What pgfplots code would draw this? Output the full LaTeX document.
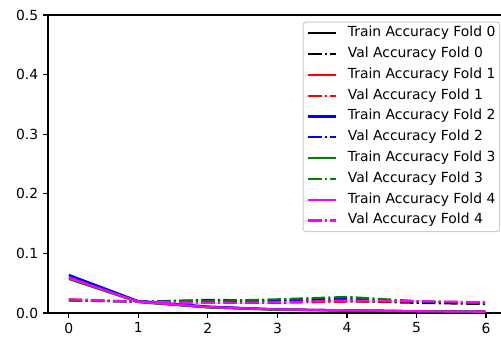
\documentclass[border=0pt]{standalone}
\usepackage{pgfplots}
\pgfplotsset{compat=1.18}
\usepackage{fontspec}
\setmainfont{DejaVu Sans}
\definecolor{mplgreen}{RGB}{0,128,0}
\definecolor{mplred}{RGB}{255,0,0}
\definecolor{mplblue}{RGB}{0,0,255}
\definecolor{mplmag}{RGB}{255,0,255}
\begin{document}
\begin{tikzpicture}
\useasboundingbox (0,0) rectangle (360.72pt,242.64pt);
\begin{axis}[
  at={(34.56pt,17.28pt)}, anchor=south west,
  scale only axis, width=326.16pt, height=214.56pt,
  xmin=-0.3, xmax=6.216, ymin=0, ymax=0.5,
  axis x line*=box, axis y line*=left,
  axis line style={-, line width=0.8pt, black},
  xtick={0,1,2,3,4,5,6}, ytick={0,0.1,0.2,0.3,0.4,0.5},
  xtick pos=left, ytick pos=left,
  tick align=outside, major tick length=3.5pt,
  every tick/.style={black, line width=0.8pt},
  /pgf/number format/assume math mode=true,
  yticklabel style={/pgf/number format/.cd, fixed, fixed zerofill, precision=1},
  ticklabel style={font=\fontsize{10}{12}\selectfont},
  legend cell align=left,
  legend image code/.code={\draw[#1, line width=1.5pt] (0pt,0pt) -- (20pt,0pt);},
  legend style={at={(rel axis cs:1,1)}, anchor=north east, xshift=-0.7pt, yshift=-4.8pt,
    draw=black!20, line width=0.7pt, rounded corners=2pt, fill=white, fill opacity=0.8, text opacity=1,
    inner xsep=3pt, inner ysep=3pt, row sep=4.98pt, column sep=7.7pt,
    font=\fontsize{10}{12}\selectfont,
    nodes={inner sep=0pt, text height=7.5pt, text depth=2.5pt, anchor=west}},
  every axis plot/.append style={line width=1.5pt},
  dd/.style={dash pattern=on 9.6pt off 2.4pt on 1.5pt off 2.4pt},
]
\addplot[black] coordinates {(0,0.060) (1,0.019) (2,0.010) (3,0.006) (4,0.0045) (5,0.003) (6,0.002)};
\addlegendentry{Train Accuracy Fold 0}
\addplot[black, dd] coordinates {(0,0.021) (1,0.019) (2,0.019) (3,0.021) (4,0.020) (5,0.017) (6,0.015)};
\addlegendentry{Val Accuracy Fold 0}
\addplot[mplred] coordinates {(0,0.060) (1,0.019) (2,0.010) (3,0.006) (4,0.004) (5,0.003) (6,0.002)};
\addlegendentry{Train Accuracy Fold 1}
\addplot[mplred, dd] coordinates {(0,0.023) (1,0.019) (2,0.017) (3,0.017) (4,0.019) (5,0.019) (6,0.018)};
\addlegendentry{Val Accuracy Fold 1}
\addplot[mplblue] coordinates {(0,0.064) (1,0.020) (2,0.011) (3,0.006) (4,0.0045) (5,0.003) (6,0.002)};
\addlegendentry{Train Accuracy Fold 2}
\addplot[mplblue, dd] coordinates {(0,0.022) (1,0.019) (2,0.022) (3,0.021) (4,0.024) (5,0.019) (6,0.017)};
\addlegendentry{Val Accuracy Fold 2}
\addplot[mplgreen] coordinates {(0,0.057) (1,0.018) (2,0.009) (3,0.005) (4,0.004) (5,0.003) (6,0.002)};
\addlegendentry{Train Accuracy Fold 3}
\addplot[mplgreen, dd] coordinates {(0,0.021) (1,0.019) (2,0.020) (3,0.023) (4,0.027) (5,0.020) (6,0.016)};
\addlegendentry{Val Accuracy Fold 3}
\addplot[mplmag] coordinates {(0,0.059) (1,0.019) (2,0.010) (3,0.006) (4,0.0045) (5,0.003) (6,0.002)};
\addlegendentry{Train Accuracy Fold 4}
\addplot[mplmag, dd] coordinates {(0,0.023) (1,0.019) (2,0.017) (3,0.018) (4,0.021) (5,0.020) (6,0.018)};
\addlegendentry{Val Accuracy Fold 4}
\end{axis}
\end{tikzpicture}
\end{document}
